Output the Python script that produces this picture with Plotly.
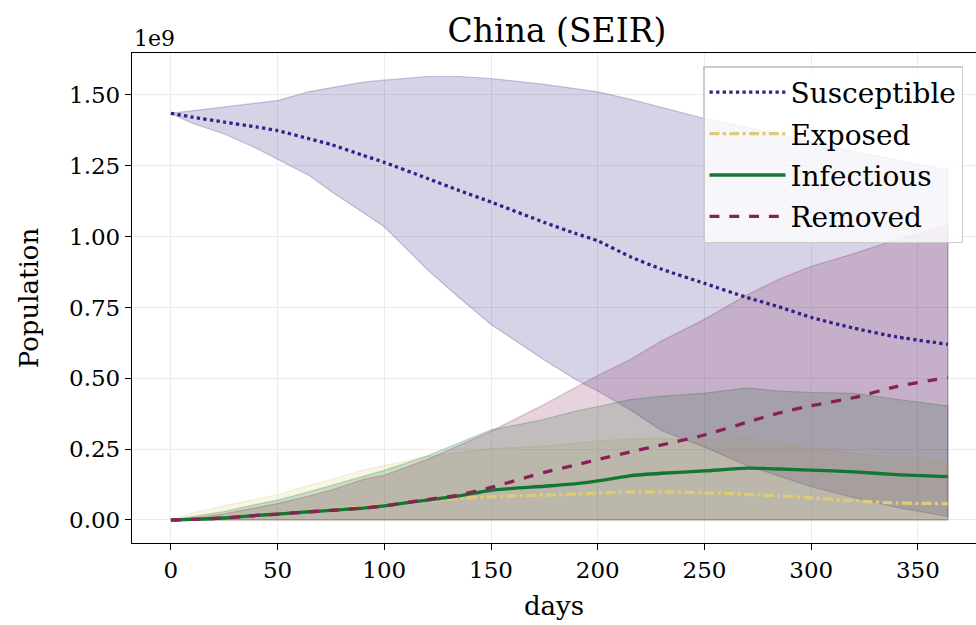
import plotly.graph_objects as go

# ---------------- data (population in units of 1e9) ----------------
days = [0, 10, 25, 40, 50, 65, 75, 90, 100, 120, 135, 150, 175, 190, 200,
        215, 230, 250, 270, 285, 300, 320, 340, 364]

susceptible_mean = [1.435, 1.422, 1.404, 1.387, 1.374, 1.345, 1.325, 1.287, 1.262, 1.206,
                    1.163, 1.122, 1.050, 1.010, 0.985, 0.930, 0.885, 0.835, 0.785, 0.752,
                    0.715, 0.677, 0.646, 0.620]
susceptible_upper = [1.435, 1.444, 1.458, 1.470, 1.480, 1.512, 1.525, 1.545, 1.552, 1.565,
                     1.565, 1.558, 1.537, 1.520, 1.511, 1.485, 1.455, 1.417, 1.385, 1.360,
                     1.335, 1.300, 1.270, 1.235]
susceptible_lower = [1.435, 1.400, 1.362, 1.312, 1.274, 1.215, 1.160, 1.085, 1.035, 0.885,
                     0.785, 0.690, 0.565, 0.494, 0.455, 0.390, 0.315, 0.258, 0.192, 0.155,
                     0.118, 0.079, 0.044, 0.012]

exposed_mean = [0.0, 0.003, 0.010, 0.018, 0.022, 0.030, 0.037, 0.046, 0.053, 0.068,
                0.076, 0.082, 0.088, 0.092, 0.095, 0.099, 0.099, 0.096, 0.091, 0.085,
                0.078, 0.068, 0.060, 0.058]
exposed_upper = [0.0, 0.024, 0.050, 0.073, 0.090, 0.123, 0.143, 0.176, 0.193, 0.225,
                 0.238, 0.252, 0.260, 0.272, 0.278, 0.286, 0.288, 0.283, 0.288, 0.272,
                 0.257, 0.235, 0.220, 0.206]
exposed_lower = [0.0] * 24

infectious_mean = [0.0, 0.002, 0.007, 0.016, 0.021, 0.029, 0.034, 0.042, 0.050, 0.070,
                   0.085, 0.105, 0.119, 0.128, 0.138, 0.156, 0.165, 0.173, 0.183, 0.180,
                   0.176, 0.170, 0.160, 0.153]
infectious_upper = [0.0, 0.012, 0.030, 0.055, 0.070, 0.100, 0.121, 0.155, 0.175, 0.226,
                    0.272, 0.318, 0.355, 0.385, 0.400, 0.425, 0.437, 0.448, 0.466, 0.455,
                    0.450, 0.447, 0.426, 0.402]
infectious_lower = [0.0] * 24

removed_mean = [0.0, 0.002, 0.007, 0.016, 0.021, 0.029, 0.034, 0.042, 0.050, 0.072,
                0.088, 0.115, 0.168, 0.195, 0.213, 0.240, 0.265, 0.300, 0.345, 0.378,
                0.403, 0.432, 0.471, 0.503]
removed_upper = [0.0, 0.006, 0.022, 0.042, 0.058, 0.085, 0.105, 0.143, 0.158, 0.213,
                 0.264, 0.313, 0.408, 0.470, 0.510, 0.565, 0.632, 0.708, 0.795, 0.850,
                 0.895, 0.940, 0.990, 1.040]
removed_lower = [0.0] * 24

names = ["Susceptible", "Exposed", "Infectious", "Removed"]
y_ticks = [0.0, 0.25, 0.5, 0.75, 1.0, 1.25, 1.5]
x_ticks = [0, 50, 100, 150, 200, 250, 300, 350]

# ---------------- styles ----------------
rgb = {"Susceptible": (51, 34, 136), "Exposed": (221, 204, 119),
       "Infectious": (17, 119, 51), "Removed": (136, 34, 85)}
dash = {"Susceptible": "dot", "Exposed": "dashdot", "Infectious": "solid", "Removed": "dash"}
series = {
    "Susceptible": (susceptible_mean, susceptible_upper, susceptible_lower),
    "Exposed": (exposed_mean, exposed_upper, exposed_lower),
    "Infectious": (infectious_mean, infectious_upper, infectious_lower),
    "Removed": (removed_mean, removed_upper, removed_lower),
}
FONT = "DejaVu Serif"

fig = go.Figure()
for n in names:
    m, up, lo = series[n]
    r, g, b = rgb[n]
    fig.add_trace(go.Scatter(
        x=days + days[::-1], y=up + lo[::-1], fill="toself",
        fillcolor=f"rgba({r},{g},{b},0.2)", mode="lines",
        line=dict(color=f"rgba({r},{g},{b},0.25)", width=1.2),
        showlegend=False, hoverinfo="skip"))
for i, n in enumerate(names):
    m, up, lo = series[n]
    r, g, b = rgb[n]
    fig.add_trace(go.Scatter(
        x=days, y=m, mode="lines", name=n, legendgroup=n,
        line=dict(color=f"rgb({r},{g},{b})", width=3.3, dash=dash[n], shape="spline", smoothing=0.6)))

axis_common = dict(showline=True, linecolor="black", linewidth=1.3, ticks="outside",
                   ticklen=6, tickwidth=1.3, tickcolor="black", showgrid=True,
                   gridcolor="#ebebeb", gridwidth=1.2, zeroline=False,
                   tickfont=dict(family=FONT, size=23, color="black"))

fig.update_layout(
    width=976, height=625,
    margin=dict(l=132, r=0, t=53, b=82),
    paper_bgcolor="white", plot_bgcolor="white",
    font=dict(family=FONT, color="black"),
    title=dict(text="China (SEIR)", x=(557 - 132) / (976 - 132), xref="paper", xanchor="center",
               y=1 - 30 / 625, yref="container", yanchor="middle",
               font=dict(family=FONT, size=33, color="black")),
    xaxis=dict(range=[-18.2, 377.2], tickvals=x_ticks, mirror=True,
               title=dict(text="days", font=dict(family=FONT, size=26), standoff=15), **axis_common),
    yaxis=dict(range=[-0.0812, 1.648], tickvals=y_ticks, tickformat=".2f",
               title=dict(text="Population", font=dict(family=FONT, size=26), standoff=22), **axis_common),
    legend=dict(x=(703 - 132) / 844, y=1 - (66 - 53) / 490, xanchor="left", yanchor="top",
                bgcolor="rgba(255,255,255,0.8)", bordercolor="#cccccc", borderwidth=1.5,
                font=dict(family=FONT, size=28, color="black"), tracegroupgap=2,
                itemwidth=76),
    annotations=[dict(text="1e9", xref="paper", yref="paper", x=0, y=1, xanchor="left",
                      yanchor="bottom", showarrow=False, yshift=0,
                      font=dict(family=FONT, size=22, color="black"))],
)

fig.write_html("out.html")
